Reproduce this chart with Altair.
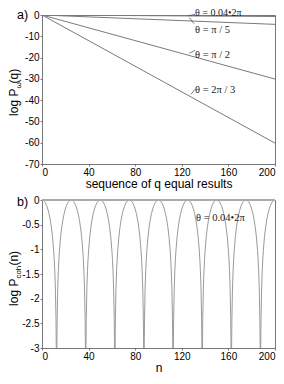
import altair as alt
import pandas as pd

# ---------------- data: panel a ----------------
a_q = [0, 200]
a_labels = ["θ = 0.04•2π", "θ = π / 5", "θ = π / 2", "θ = 2π / 3"]
a_start = [0, 0, 0, 0]
a_end = [-0.7, -4.4, -30.1, -60.2]
a_xticks = [0, 40, 80, 120, 160, 200]
a_yticks = [0, -10, -20, -30, -40, -50, -60, -70]

# ---------------- data: panel b ----------------
b_peaks = [0, 25, 50, 75, 100, 125, 150, 175, 200]
b_offsets = [0, 1, 2, 3, 4, 5, 6, 7, 8, 9, 10, 10.5, 11, 11.5, 12, 12.25]
b_profile = [0, -0.007, -0.028, -0.063, -0.115, -0.184, -0.275, -0.391,
             -0.542, -0.742, -1.02, -1.209, -1.455, -1.804, -2.404, -3.0]
b_xticks = [0, 40, 80, 120, 160, 200]
b_yticks = [0, -0.5, -1, -1.5, -2, -2.5, -3]
b_label = "θ = 0.04•2π"

rows = []
for i, lab in enumerate(a_labels):
    rows.append({"series": lab, "q": a_q[0], "v": a_start[i]})
    rows.append({"series": lab, "q": a_q[1], "v": a_end[i]})
df_a = pd.DataFrame(rows)

rows = []
for k, p in enumerate(b_peaks):
    pts = []
    for off, val in zip(b_offsets, b_profile):
        pts.append((p - off, val))
        if off != 0:
            pts.append((p + off, val))
    pts = sorted(set(pts))
    for n, val in pts:
        if 0 <= n <= 200:
            rows.append({"arch": k, "n": n, "v": val})
df_b = pd.DataFrame(rows)

W, HA, HB = 233, 149, 148
SANS = "Liberation Sans"
SERIF = "Liberation Serif"
AX = "#777777"


def xaxis(title, ticks):
    return alt.Axis(values=ticks, title=title, tickSize=2, labelPadding=1,
                    titlePadding=1, labelFont=SANS, labelFontSize=10,
                    titleFont=SANS, titleFontSize=12, titleFontWeight="normal",
                    labelColor="black", titleColor="black", grid=False,
                    domainColor=AX, tickColor=AX, labelOverlap=False,
                    labelFlush=True)


def yaxis(ticks):
    return alt.Axis(values=ticks, title=None, tickSize=2, labelPadding=1,
                    labelFont=SANS, labelFontSize=10, labelColor="black",
                    grid=False, domainColor=AX, tickColor=AX,
                    labelOverlap=False, labelFlush=False,
                    labelExpr="datum.value < 0 ? '-' + format(-datum.value, '') : format(datum.value, '')")


def one():
    return pd.DataFrame({"t": [""]})


def text(s, x, y, font=SERIF, size=10.5, align="left", baseline="middle", angle=0, color="#222222"):
    kw = dict(font=font, fontSize=size, align=align, baseline=baseline, color=color)
    if angle:
        kw["angle"] = angle
    return alt.Chart(one()).mark_text(**kw).encode(
        x=alt.value(x), y=alt.value(y), text=alt.value(s))


def leader(x1, y1, x2, y2):
    return alt.Chart(one()).mark_rule(color="#555555", strokeWidth=0.8).encode(
        x=alt.value(x1), y=alt.value(y1), x2=alt.value(x2), y2=alt.value(y2))


lines_a = alt.Chart(df_a).mark_line(color="#7a7a7a", strokeWidth=1, clip=True).encode(
    x=alt.X("q:Q", scale=alt.Scale(domain=[0, 200], nice=False),
            axis=xaxis("sequence of q equal results", a_xticks)),
    y=alt.Y("v:Q", scale=alt.Scale(domain=[-70, 0], nice=False), axis=yaxis(a_yticks)),
    detail="series:N",
)

panel_a = alt.layer(
    lines_a,
    text(a_labels[0], 153, -1.8, size=10),
    text(a_labels[1], 153, 15),
    text(a_labels[2], 153, 39.5),
    text(a_labels[3], 153, 75),
    leader(153, -0.6, 146, 0.8),
    leader(147.3, 2.7, 152, 8.7),
    leader(147.3, 38.3, 153, 35.3),
    leader(153, 74.3, 149, 79.3),
    text("a)", -25, 4, font=SANS, size=12.5, baseline="alphabetic", color="black"),
    text("log P", -24, 73.6, font=SANS, size=12, align="right", baseline="alphabetic", angle=270, color="black"),
    text("ω", -21, 73.6, font=SANS, size=8, align="left", baseline="alphabetic", angle=270, color="black"),
    text("(q)", -24, 68.4, font=SANS, size=12, align="left", baseline="alphabetic", angle=270, color="black"),
).properties(width=W, height=HA)

curve_b = alt.Chart(df_b).mark_line(color="#9a9a9a", strokeWidth=1, clip=True).encode(
    x=alt.X("n:Q", scale=alt.Scale(domain=[0, 200], nice=False), axis=xaxis("n", b_xticks)),
    y=alt.Y("v:Q", scale=alt.Scale(domain=[-3, 0], nice=False), axis=yaxis(b_yticks)),
    detail="arch:N",
    order="n:Q",
)

top_b = alt.Chart(one()).mark_rule(color="#aaaaaa", strokeWidth=2).encode(
    x=alt.value(0), x2=alt.value(W), y=alt.value(0))

panel_b = alt.layer(
    curve_b,
    top_b,
    text(b_label, 154, 18),
    text("b)", -25, 6, font=SANS, size=12.5, baseline="alphabetic", color="black"),
    text("log P", -24, 78.6, font=SANS, size=12, align="right", baseline="alphabetic", angle=270, color="black"),
    text("coh", -21, 78.6, font=SANS, size=8, align="left", baseline="alphabetic", angle=270, color="black"),
    text("(n)", -24, 65.6, font=SANS, size=12, align="left", baseline="alphabetic", angle=270, color="black"),
).properties(width=W, height=HB)

chart = alt.vconcat(panel_a, panel_b, spacing=36, bounds="flush").properties(
    autosize=alt.AutoSizeParams(type="none"),
    padding={"left": 34, "top": 7, "right": 1, "bottom": 359},
).configure_view(stroke=AX, strokeWidth=1)

chart.save("out.html", embed_options={"renderer": "svg", "actions": False})
